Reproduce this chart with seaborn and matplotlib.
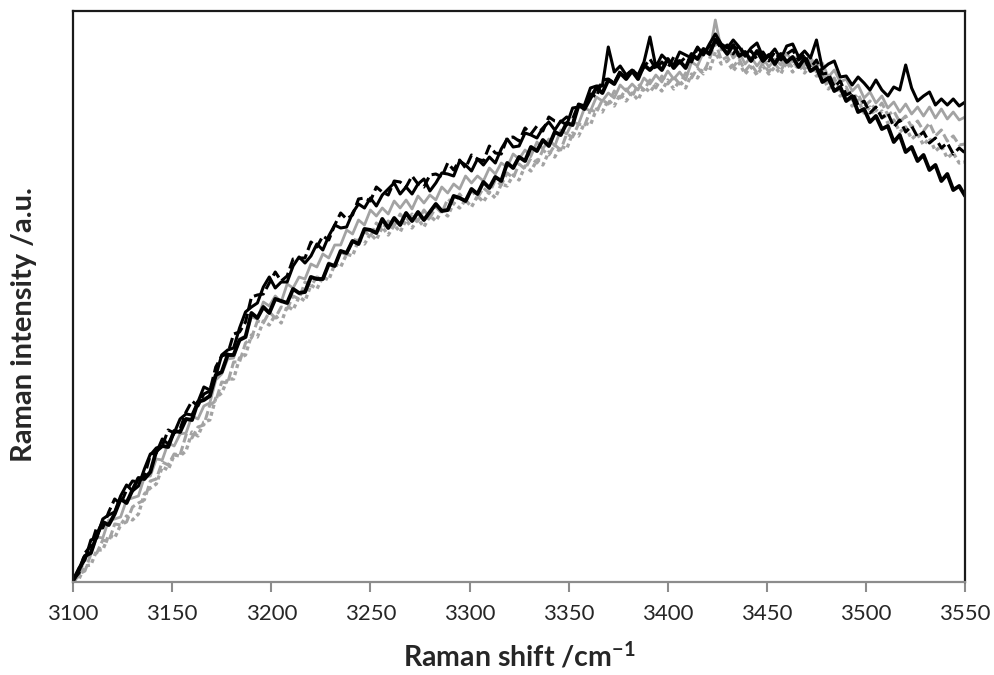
import numpy as np
import pandas as pd
import matplotlib
matplotlib.use("Agg")
import matplotlib.pyplot as plt
import seaborn as sns

# Raman shift axis (cm-1), sampled every 3 cm-1 from 3100 to 3550
shift = list(range(3100, 3551, 3))

# O-H stretching band intensities (arbitrary units), one list per spectrum
black_solid = [
    2, 14, 22, 42, 44, 63, 67, 70, 86, 97,
    91, 96, 113, 128, 129, 143, 138, 149, 163, 168,
    167, 180, 195, 192, 206, 227, 232, 234, 254, 270,
    275, 279, 295, 305, 294, 300, 300, 316, 325, 319,
    326, 338, 332, 346, 357, 354, 355, 369, 378, 374,
    384, 376, 387, 393, 399, 388, 395, 388, 398, 403,
    391, 399, 409, 408, 406, 421, 417, 411, 423, 417,
    425, 419, 433, 443, 435, 436, 449, 447, 444, 454,
    460, 452, 461, 457, 474, 475, 477, 494, 496, 496,
    535, 510, 516, 507, 512, 507, 520, 545, 515, 527,
    521, 517, 530, 527, 524, 535, 527, 538, 548, 538,
    534, 542, 535, 526, 534, 539, 525, 526, 533, 523,
    536, 538, 525, 531, 524, 542, 513, 518, 521, 505,
    506, 497, 505, 499, 492, 502, 492, 486, 495, 492,
    517, 494, 481, 486, 490, 477, 483, 477, 483, 476,
    480,
]
black_dashed = [
    2, 9, 29, 36, 55, 54, 70, 83, 78, 92,
    101, 100, 106, 127, 134, 136, 152, 149, 153, 170,
    181, 176, 188, 191, 215, 226, 228, 248, 250, 260,
    285, 287, 288, 299, 310, 301, 306, 323, 324, 324,
    340, 335, 346, 342, 357, 369, 363, 367, 383, 384,
    381, 395, 390, 387, 401, 400, 395, 406, 398, 395,
    407, 408, 405, 419, 412, 422, 414, 427, 423, 421,
    436, 429, 428, 444, 445, 441, 454, 448, 456, 451,
    465, 461, 460, 465, 463, 478, 476, 488, 485, 502,
    503, 499, 511, 505, 513, 505, 515, 523, 513, 520,
    514, 525, 519, 525, 520, 534, 528, 536, 543, 533,
    537, 528, 537, 526, 531, 523, 530, 521, 530, 522,
    528, 532, 522, 528, 514, 522, 508, 509, 495, 501,
    487, 490, 477, 481, 469, 475, 464, 469, 455, 462,
    450, 456, 445, 450, 439, 444, 434, 439, 428, 434,
    429,
]
black_thick = [
    1, 12, 26, 29, 47, 60, 57, 68, 83, 79,
    92, 104, 103, 110, 131, 136, 135, 151, 150, 163,
    162, 180, 182, 186, 207, 210, 227, 227, 242, 245,
    269, 264, 275, 269, 283, 281, 279, 293, 289, 290,
    305, 303, 303, 318, 316, 331, 329, 341, 338, 353,
    352, 349, 363, 354, 364, 357, 369, 361, 370, 362,
    370, 378, 371, 372, 386, 384, 381, 393, 388, 400,
    394, 405, 401, 419, 414, 425, 421, 435, 431, 442,
    436, 450, 447, 459, 457, 477, 473, 484, 494, 489,
    502, 498, 509, 503, 511, 503, 517, 512, 518, 512,
    523, 514, 521, 514, 528, 523, 533, 528, 542, 536,
    528, 537, 526, 530, 521, 531, 521, 527, 518, 528,
    520, 525, 515, 524, 511, 515, 500, 504, 491, 495,
    481, 486, 470, 473, 460, 466, 453, 456, 440, 447,
    430, 435, 421, 427, 412, 417, 401, 408, 392, 396,
    386,
]
gray_solid = [
    0, 6, 24, 29, 45, 44, 62, 63, 65, 82,
    84, 86, 105, 106, 123, 122, 139, 136, 148, 149,
    166, 163, 176, 179, 202, 208, 223, 224, 243, 246,
    265, 263, 280, 276, 286, 280, 298, 294, 305, 303,
    318, 315, 328, 324, 337, 337, 352, 348, 362, 357,
    372, 366, 374, 368, 381, 374, 382, 373, 386, 379,
    387, 382, 395, 389, 398, 393, 406, 399, 406, 401,
    414, 408, 419, 415, 428, 423, 432, 426, 440, 433,
    443, 436, 452, 448, 460, 458, 474, 471, 485, 481,
    489, 484, 497, 491, 498, 492, 504, 498, 507, 500,
    511, 503, 510, 502, 520, 516, 530, 528, 562, 532,
    536, 524, 530, 518, 525, 516, 524, 515, 523, 517,
    529, 520, 527, 517, 524, 516, 519, 505, 512, 500,
    503, 491, 497, 484, 490, 479, 486, 474, 480, 470,
    478, 468, 475, 466, 475, 464, 473, 463, 470, 462,
    465,
]
gray_dashed = [
    0, 8, 11, 28, 29, 42, 40, 58, 57, 60,
    75, 79, 82, 101, 103, 120, 117, 128, 127, 147,
    144, 155, 157, 177, 181, 200, 199, 220, 220, 239,
    244, 261, 259, 270, 264, 275, 273, 286, 283, 300,
    296, 305, 303, 319, 316, 330, 327, 343, 341, 351,
    345, 359, 353, 361, 356, 368, 361, 368, 361, 372,
    364, 375, 369, 383, 378, 388, 380, 392, 384, 394,
    389, 402, 397, 409, 404, 418, 413, 424, 419, 432,
    427, 437, 432, 448, 445, 458, 456, 472, 470, 482,
    478, 491, 484, 493, 485, 498, 492, 502, 494, 506,
    498, 505, 498, 509, 504, 514, 508, 523, 540, 522,
    525, 515, 523, 511, 518, 509, 519, 510, 518, 511,
    523, 514, 523, 513, 520, 510, 511, 498, 504, 491,
    495, 482, 488, 475, 481, 471, 479, 467, 471, 460,
    466, 455, 461, 451, 459, 446, 452, 441, 446, 437,
    438,
]
gray_dotted = [
    0, 3, 16, 17, 32, 32, 47, 44, 57, 66,
    62, 68, 88, 94, 98, 115, 112, 127, 126, 131,
    150, 146, 160, 162, 184, 189, 203, 203, 224, 227,
    247, 245, 261, 257, 267, 259, 276, 272, 285, 281,
    297, 293, 305, 302, 318, 315, 328, 326, 342, 338,
    348, 342, 355, 347, 357, 350, 362, 354, 363, 355,
    366, 361, 371, 366, 379, 374, 382, 375, 386, 380,
    390, 384, 398, 396, 407, 402, 416, 411, 422, 417,
    430, 425, 436, 433, 449, 446, 459, 457, 473, 470,
    482, 476, 488, 481, 489, 482, 495, 490, 498, 491,
    502, 493, 501, 494, 508, 504, 515, 511, 530, 518,
    521, 511, 519, 508, 515, 507, 516, 508, 515, 508,
    520, 510, 518, 509, 517, 506, 507, 493, 499, 486,
    490, 476, 482, 469, 475, 464, 471, 459, 462, 450,
    455, 443, 448, 437, 444, 431, 436, 424, 429, 419,
    420,
]

x_ticks = [3100, 3150, 3200, 3250, 3300, 3350, 3400, 3450, 3500, 3550]

sns.set_style("white")
plt.rcParams["font.family"] = ["Lato", "DejaVu Sans"]
plt.rcParams["mathtext.default"] = "regular"

fig = plt.figure(figsize=(9.95, 6.75), dpi=100)
ax = fig.add_axes([0.0734, 0.1378, 0.8966, 0.8459])

GRAY = "#a3a3a3"
spectra = [
    (gray_dotted, GRAY, (0, (1.2, 1.0)), 2.4),
    (gray_dashed, GRAY, (0, (3.0, 1.2)), 2.2),
    (gray_solid, GRAY, "-", 2.0),
    (black_dashed, "black", (0, (3.5, 1.5)), 2.2),
    (black_thick, "black", "-", 2.8),
    (black_solid, "black", "-", 2.2),
]
for values, color, ls, lw in spectra:
    df = pd.DataFrame({"shift": shift, "intensity": values})
    sns.lineplot(data=df, x="shift", y="intensity", ax=ax, color=color,
                 linestyle=ls, linewidth=lw, legend=False)

ax.set_xlim(3100, 3550)
ax.set_ylim(0, 571)
ax.set_xticks(x_ticks)
ax.set_xticklabels([str(t) for t in x_ticks])
ax.set_yticks([])

for side in ["left", "top", "right"]:
    ax.spines[side].set_color("#1a1a1a")
    ax.spines[side].set_linewidth(1.6)
ax.spines["bottom"].set_color("#8c8c8c")
ax.spines["bottom"].set_linewidth(1.6)

ax.tick_params(axis="x", direction="out", length=7, width=1.5, color="#8c8c8c",
               labelsize=16, pad=9, bottom=True)

ax.set_xlabel("Raman shift /cm$^{-1}$", fontsize=20.5, fontweight="bold", labelpad=12)
ax.set_ylabel("Raman intensity /a.u.", fontsize=21, fontweight="bold")
ax.yaxis.set_label_coords(-0.040, 0.45)

fig.savefig("out.png", dpi=100, facecolor="white")
